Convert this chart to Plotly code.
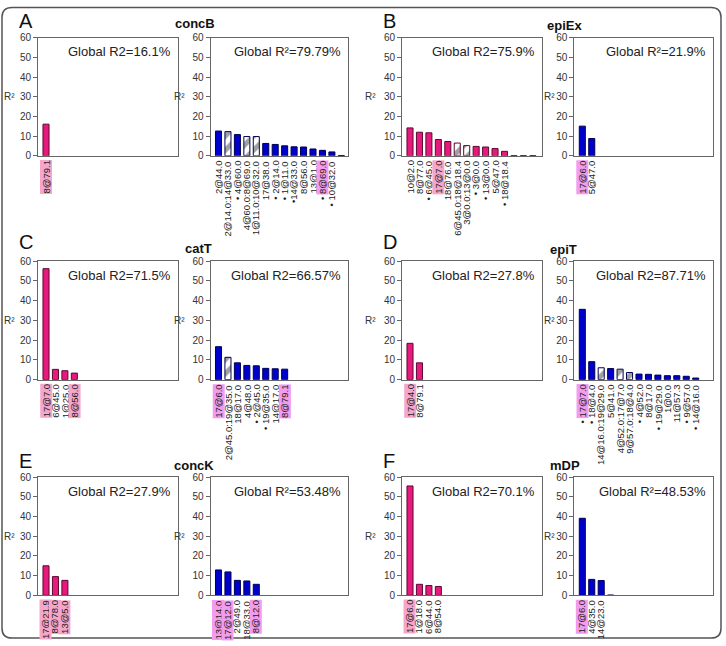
import plotly.graph_objects as go

W, H = 726, 646

# ---------------- data ----------------
# Panel A : concB
A1_labels = ["8@79.1"]
A1_values = [16.1]
A1_hatch = [0]
A1_mark = [1]
A1_text = "Global R2=16.1%"

A2_labels = ["2@44.0", "2@14.0:14@33.0", "• 4@60.0", "4@60.0:8@69.0", "1@11.0:10@32.0",
             "17@38.0", "• 2@14.0", "• 1@11.0", "•14@33.0", "8@56.0", "13@1.0",
             "• 8@69.0", "• 10@32.0", ""]
A2_values = [12.6, 12.3, 10.8, 9.8, 9.8, 6.3, 5.8, 5.1, 4.6, 4.5, 3.5, 2.8, 2.0, 0.2]
A2_hatch = [0, 1, 0, 1, 1, 0, 0, 0, 0, 0, 0, 0, 0, 0]
A2_mark = [0, 0, 0, 0, 0, 0, 0, 0, 0, 0, 0, 1, 0, 0]
A2_text = "Global R²=79.79%"

# Panel B : epiEx
B1_labels = ["10@2.0", "8@77.0", "• 6@45.0", "17@7.0", "18@76.0", "6@45.0:18@18.4",
             "3@0.0:13@0.0", "• 3@0.0", "• 13@0.0", "5@47.0", "• 18@18.4", "", "", ""]
B1_values = [14.2, 12.0, 11.7, 8.3, 7.3, 6.5, 5.2, 4.8, 4.5, 3.7, 2.3, 0.15, 0.15, 0.15]
B1_hatch = [0, 0, 0, 0, 0, 1, 1, 0, 0, 0, 0, 0, 0, 0]
B1_mark = [0, 0, 0, 1, 0, 0, 0, 0, 0, 0, 0, 0, 0, 0]
B1_text = "Global R2=75.9%"

B2_labels = ["17@6.0", "5@47.0"]
B2_values = [15.1, 8.8]
B2_hatch = [0, 0]
B2_mark = [1, 0]
B2_text = "Global R²=21.9%"

# Panel C : catT
C1_labels = ["17@7.0", "6@45.0", "1@25.0", "8@56.0"]
C1_values = [56.2, 5.2, 4.5, 3.3]
C1_hatch = [0, 0, 0, 0]
C1_mark = [1, 0, 0, 1]
C1_text = "Global R2=71.5%"

C2_labels = ["17@6.0", "2@45.0:19@35.0", "18@17.0", "4@48.0", "• 2@45.0", "• 19@35.0",
             "14@17.0", "8@79.1"]
C2_values = [16.7, 11.3, 8.5, 7.2, 7.0, 5.7, 5.5, 5.3]
C2_hatch = [0, 1, 0, 0, 0, 0, 0, 0]
C2_mark = [1, 0, 0, 0, 0, 0, 0, 1]
C2_text = "Global R2=66.57%"

# Panel D : epiT
D1_labels = ["17@4.0", "8@79.1"]
D1_values = [18.4, 8.5]
D1_hatch = [0, 0]
D1_mark = [1, 0]
D1_text = "Global R2=27.8%"

D2_labels = ["• 17@7.0", "• 18@4.0", "14@16.0:19@29.0", "5@41.0", "4@52.0:17@7.0",
             "9@57.0:18@4.0", "• 4@52.0", "8@17.0", "• 19@29.0", "1@0.0", "11@57.3",
             "• 9@57.0", "• 14@16.0"]
D2_values = [35.6, 9.1, 6.0, 5.6, 5.3, 3.6, 2.8, 2.7, 2.3, 2.0, 2.0, 1.7, 0.8]
D2_hatch = [0, 0, 1, 0, 1, 1, 0, 0, 0, 0, 0, 0, 0]
D2_mark = [1, 0, 0, 0, 0, 0, 0, 0, 0, 0, 0, 0, 0]
D2_text = "Global R2=87.71%"

# Panel E : concK
E1_labels = ["17@21.9", "8@78.0", "13@5.0"]
E1_values = [15.0, 9.5, 7.6]
E1_hatch = [0, 0, 0]
E1_mark = [1, 1, 1]
E1_text = "Global R2=27.9%"

E2_labels = ["13@14.0", "17@12.0", "2@49.0", "18@33.0", "8@12.0"]
E2_values = [12.9, 11.9, 7.6, 7.3, 5.6]
E2_hatch = [0, 0, 0, 0, 0]
E2_mark = [1, 1, 0, 0, 1]
E2_text = "Global R²=53.48%"

# Panel F : mDP
F1_labels = ["17@6.0", "1@18.0", "6@44.0", "8@54.0"]
F1_values = [55.5, 5.6, 5.0, 4.5]
F1_hatch = [0, 0, 0, 0]
F1_mark = [1, 0, 0, 0]
F1_text = "Global R2=70.1%"

F2_labels = ["17@6.0", "4@35.0", "14@23.0", ""]
F2_values = [39.1, 8.1, 7.5, 0.15]
F2_hatch = [0, 0, 0, 0]
F2_mark = [1, 0, 0, 0]
F2_text = "Global R²=48.53%"

trait_names = ["concB", "epiEx", "catT", "epiT", "concK", "mDP"]
panel_letters = ["A", "B", "C", "D", "E", "F"]
y_ticks = [0, 10, 20, 30, 40, 50, 60]

# ---------------- styling / layout ----------------
PINK = "#E8197D"
PINK_LINE = "#5a0a30"
BLUE = "#0000CC"
BLUE_LINE = "#000050"
HL_PINK = "#F5A6CA"
HL_BLUE = "#F29CEF"
FONT = "Liberation Sans, Arial, sans-serif"

cols_px = [(38, 178), (210.5, 347.5), (402, 541.5), (574.3, 713)]
rows_px = [(32.3, 152.7), (260, 380.7), (480, 600.5)]

panels = [
    (A1_labels, A1_values, A1_hatch, A1_mark, A1_text, 0, 0, "pink"),
    (A2_labels, A2_values, A2_hatch, A2_mark, A2_text, 0, 1, "blue"),
    (B1_labels, B1_values, B1_hatch, B1_mark, B1_text, 0, 2, "pink"),
    (B2_labels, B2_values, B2_hatch, B2_mark, B2_text, 0, 3, "blue"),
    (C1_labels, C1_values, C1_hatch, C1_mark, C1_text, 1, 0, "pink"),
    (C2_labels, C2_values, C2_hatch, C2_mark, C2_text, 1, 1, "blue"),
    (D1_labels, D1_values, D1_hatch, D1_mark, D1_text, 1, 2, "pink"),
    (D2_labels, D2_values, D2_hatch, D2_mark, D2_text, 1, 3, "blue"),
    (E1_labels, E1_values, E1_hatch, E1_mark, E1_text, 2, 0, "pink"),
    (E2_labels, E2_values, E2_hatch, E2_mark, E2_text, 2, 1, "blue"),
    (F1_labels, F1_values, F1_hatch, F1_mark, F1_text, 2, 2, "pink"),
    (F2_labels, F2_values, F2_hatch, F2_mark, F2_text, 2, 3, "blue"),
]

SLOT = 9.45
OFFSET = 8.0
r2_right = [16.7, 187.5, 378, 557]

fig = go.Figure()
layout = dict(
    width=W, height=H, margin=dict(l=0, r=0, t=0, b=0),
    paper_bgcolor="white", plot_bgcolor="white", showlegend=False,
    font=dict(family=FONT, color="#222"),
)
annotations = []

for k, (labels, values, hatch, mark, gtext, r, c, kind) in enumerate(panels, start=1):
    xs = "" if k == 1 else str(k)
    x0p, x1p = cols_px[c]
    y0p, y1p = rows_px[r]
    xdom = [x0p / W, x1p / W]
    ydom = [1 - y1p / H, 1 - y0p / H]
    wpx = x1p - x0p
    xr0 = -OFFSET / SLOT
    xr1 = xr0 + wpx / SLOT
    main = PINK if kind == "pink" else BLUE
    edge = PINK_LINE if kind == "pink" else BLUE_LINE
    hl = HL_PINK if kind == "pink" else HL_BLUE

    layout["xaxis" + xs] = dict(domain=xdom, range=[xr0, xr1], anchor="y" + xs,
                                showline=True, mirror=True, linecolor="#666", linewidth=1,
                                ticks="", showticklabels=False, showgrid=False, zeroline=False,
                                fixedrange=True)
    layout["yaxis" + xs] = dict(domain=ydom, range=[0, 60], anchor="x" + xs,
                                tickvals=y_ticks, ticks="outside", ticklen=4, tickcolor="#666",
                                tickfont=dict(size=10, color="#333", family=FONT),
                                showline=True, mirror=True, linecolor="#666", linewidth=1,
                                showgrid=False, zeroline=False, fixedrange=True)

    n = len(values)
    colors = ["white" if h else main for h in hatch]
    shapes_p = ["/" if h else "" for h in hatch]
    fig.add_trace(go.Bar(
        x=list(range(n)), y=values, xaxis="x" + xs, yaxis="y" + xs, width=0.64,
        marker=dict(color=colors, line=dict(color=edge, width=1),
                    pattern=dict(shape=shapes_p, fgcolor=main, size=10, solidity=0.5,
                                 fillmode="overlay")),
        hoverinfo="skip"))

    for i, lab in enumerate(labels):
        if not lab:
            continue
        if mark[i]:
            core = lab.lstrip("• ").strip()
            annotations.append(dict(
                x=i, xref="x" + xs, y=-0.035, yref="y" + xs + " domain",
                text=core, textangle=-90, xanchor="center", yanchor="top",
                showarrow=False, bgcolor=hl, borderpad=0,
                font=dict(size=9.5, color="rgba(0,0,0,0)", family=FONT)))
        annotations.append(dict(
            x=i, xref="x" + xs, y=-0.035, yref="y" + xs + " domain",
            text=lab, textangle=-90, xanchor="center", yanchor="top",
            showarrow=False, borderpad=0,
            font=dict(size=9.5, color="#222", family=FONT)))

    annotations.append(dict(
        x=(wpx - 5) / wpx, xref="x" + xs + " domain", y=52.8, yref="y" + xs,
        text=gtext, xanchor="right", yanchor="middle", showarrow=False,
        font=dict(size=13, color="#222", family=FONT)))

    annotations.append(dict(
        x=r2_right[c] / W, xref="paper", y=30, yref="y" + xs,
        text="R²", xanchor="right", yanchor="middle", showarrow=False,
        font=dict(size=10, color="#333", family=FONT)))

# panel letters and trait titles
letter_pos = [(17, 15.5), (381, 15.5), (17, 240), (381, 240), (17, 464), (381, 464)]
title_pos = [(173, 17.5), (545, 20), (183, 247), (548, 248), (172, 468), (548, 468)]
for j in range(6):
    lx, ly = letter_pos[j]
    annotations.append(dict(x=lx / W, y=1 - ly / H, xref="paper", yref="paper",
                            text=panel_letters[j], xanchor="left", yanchor="middle",
                            showarrow=False, font=dict(size=20, color="#111", family=FONT)))
    tx, ty = title_pos[j]
    annotations.append(dict(x=tx / W, y=1 - ty / H, xref="paper", yref="paper",
                            text="<b>" + trait_names[j] + "</b>", xanchor="left",
                            yanchor="middle", showarrow=False,
                            font=dict(size=13, color="#111", family=FONT)))

# outer rounded frame
def px(xp, yp):
    return f"{xp / W:.5f},{1 - yp / H:.5f}"

bx0, by0, bx1, by1, rad = 2, 1.5, 721, 644, 10
path = (f"M {px(bx0 + rad, by0)} L {px(bx1 - rad, by0)} Q {px(bx1, by0)} {px(bx1, by0 + rad)} "
        f"L {px(bx1, by1 - rad)} Q {px(bx1, by1)} {px(bx1 - rad, by1)} "
        f"L {px(bx0 + rad, by1)} Q {px(bx0, by1)} {px(bx0, by1 - rad)} "
        f"L {px(bx0, by0 + rad)} Q {px(bx0, by0)} {px(bx0 + rad, by0)} Z")
layout["shapes"] = [dict(type="path", xref="paper", yref="paper", path=path,
                         line=dict(color="#555", width=1.5))]
layout["annotations"] = annotations
fig.update_layout(**layout)

fig.write_html("out.html", config={"displayModeBar": False},
               post_script="document.body.style.margin='0px';document.body.style.overflow='hidden';")
